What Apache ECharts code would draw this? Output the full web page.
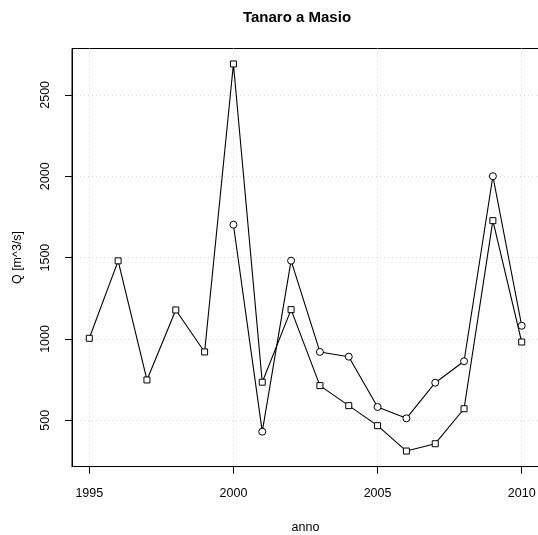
<!DOCTYPE html>
<html>
<head>
<meta charset="utf-8">
<script src="https://cdn.jsdelivr.net/npm/echarts@6/dist/echarts.min.js"></script>
<style>html,body{margin:0;padding:0;background:#fff}#c{width:538px;height:535px}</style>
</head>
<body>
<div id="c"></div>
<script>
var years = [1995,1996,1997,1998,1999,2000,2001,2002,2003,2004,2005,2006,2007,2008,2009,2010];
var squareValues = [1004,1480,748,1178,920,2690,734,1180,713,590,467,311,356,571,1727,981];
var circleYears = [2000,2001,2002,2003,2004,2005,2006,2007,2008,2009,2010];
var circleValues = [1702,430,1481,920,891,582,512,731,863,2000,1081];
var xTicks = [1995,2000,2005,2010];
var yTicks = [500,1000,1500,2000,2500];

var squareData = years.map(function(y,i){return [y, squareValues[i]];});
var circleData = circleYears.map(function(y,i){return [y, circleValues[i]];});
var font = 'Liberation Sans, Arial, Helvetica, sans-serif';
function plain(v){return String(v);}

var chart = echarts.init(document.getElementById('c'), null, {renderer:'canvas'});
chart.setOption({
  animation: false,
  backgroundColor: '#fff',
  title: {
    text: 'Tanaro a Masio',
    left: 292, top: 5, textAlign: 'center',
    textStyle: {fontFamily: font, fontSize: 15, fontWeight: 'bold', color: '#000'}
  },
  grid: {left: 72, right: -1, top: 48.5, bottom: 68.5, show: true, borderColor: '#000', borderWidth: 1,
         backgroundColor: 'transparent', containLabel: false, outerBoundsMode: 'none'},
  xAxis: {
    type: 'value', min: 1994.4, max: 2010.6,
    name: 'anno', nameLocation: 'middle', nameGap: 55,
    nameTextStyle: {fontFamily: font, fontSize: 12.5, color: '#000'},
    axisLine: {show: true, lineStyle: {color: '#000', width: 1}},
    axisTick: {show: true, length: 7, customValues: xTicks, lineStyle: {color: '#000'}},
    axisLabel: {customValues: xTicks, margin: 21, formatter: plain, hideOverlap: false, fontFamily: font, fontSize: 12.5, color: '#000'},
    splitLine: {show: true, lineStyle: {color: '#d6d6d6', type: [1,3], width: 1}}
  },
  yAxis: {
    type: 'value', min: 216, max: 2785,
    name: 'Q [m^3/s]', nameLocation: 'middle', nameGap: 48, nameRotate: 90,
    nameTextStyle: {fontFamily: font, fontSize: 12.5, color: '#000'},
    axisLine: {show: true, lineStyle: {color: '#000', width: 1}},
    axisTick: {show: true, length: 7, customValues: yTicks, lineStyle: {color: '#000'}},
    axisLabel: {customValues: yTicks, rotate: 90, margin: 20, formatter: plain, hideOverlap: false, fontFamily: font, fontSize: 12.5, color: '#000'},
    splitLine: {show: true, lineStyle: {color: '#d6d6d6', type: [1,3], width: 1}}
  },
  series: [
    {
      type: 'line', data: squareData, symbol: 'rect', symbolSize: 6, showAllSymbol: true,
      lineStyle: {color: '#000', width: 1.1},
      itemStyle: {color: '#fff', borderColor: '#000', borderWidth: 1}
    },
    {
      type: 'line', data: circleData, symbol: 'circle', symbolSize: 7, showAllSymbol: true,
      lineStyle: {color: '#000', width: 1.1},
      itemStyle: {color: '#fff', borderColor: '#000', borderWidth: 1}
    }
  ]
});
</script>
</body>
</html>
